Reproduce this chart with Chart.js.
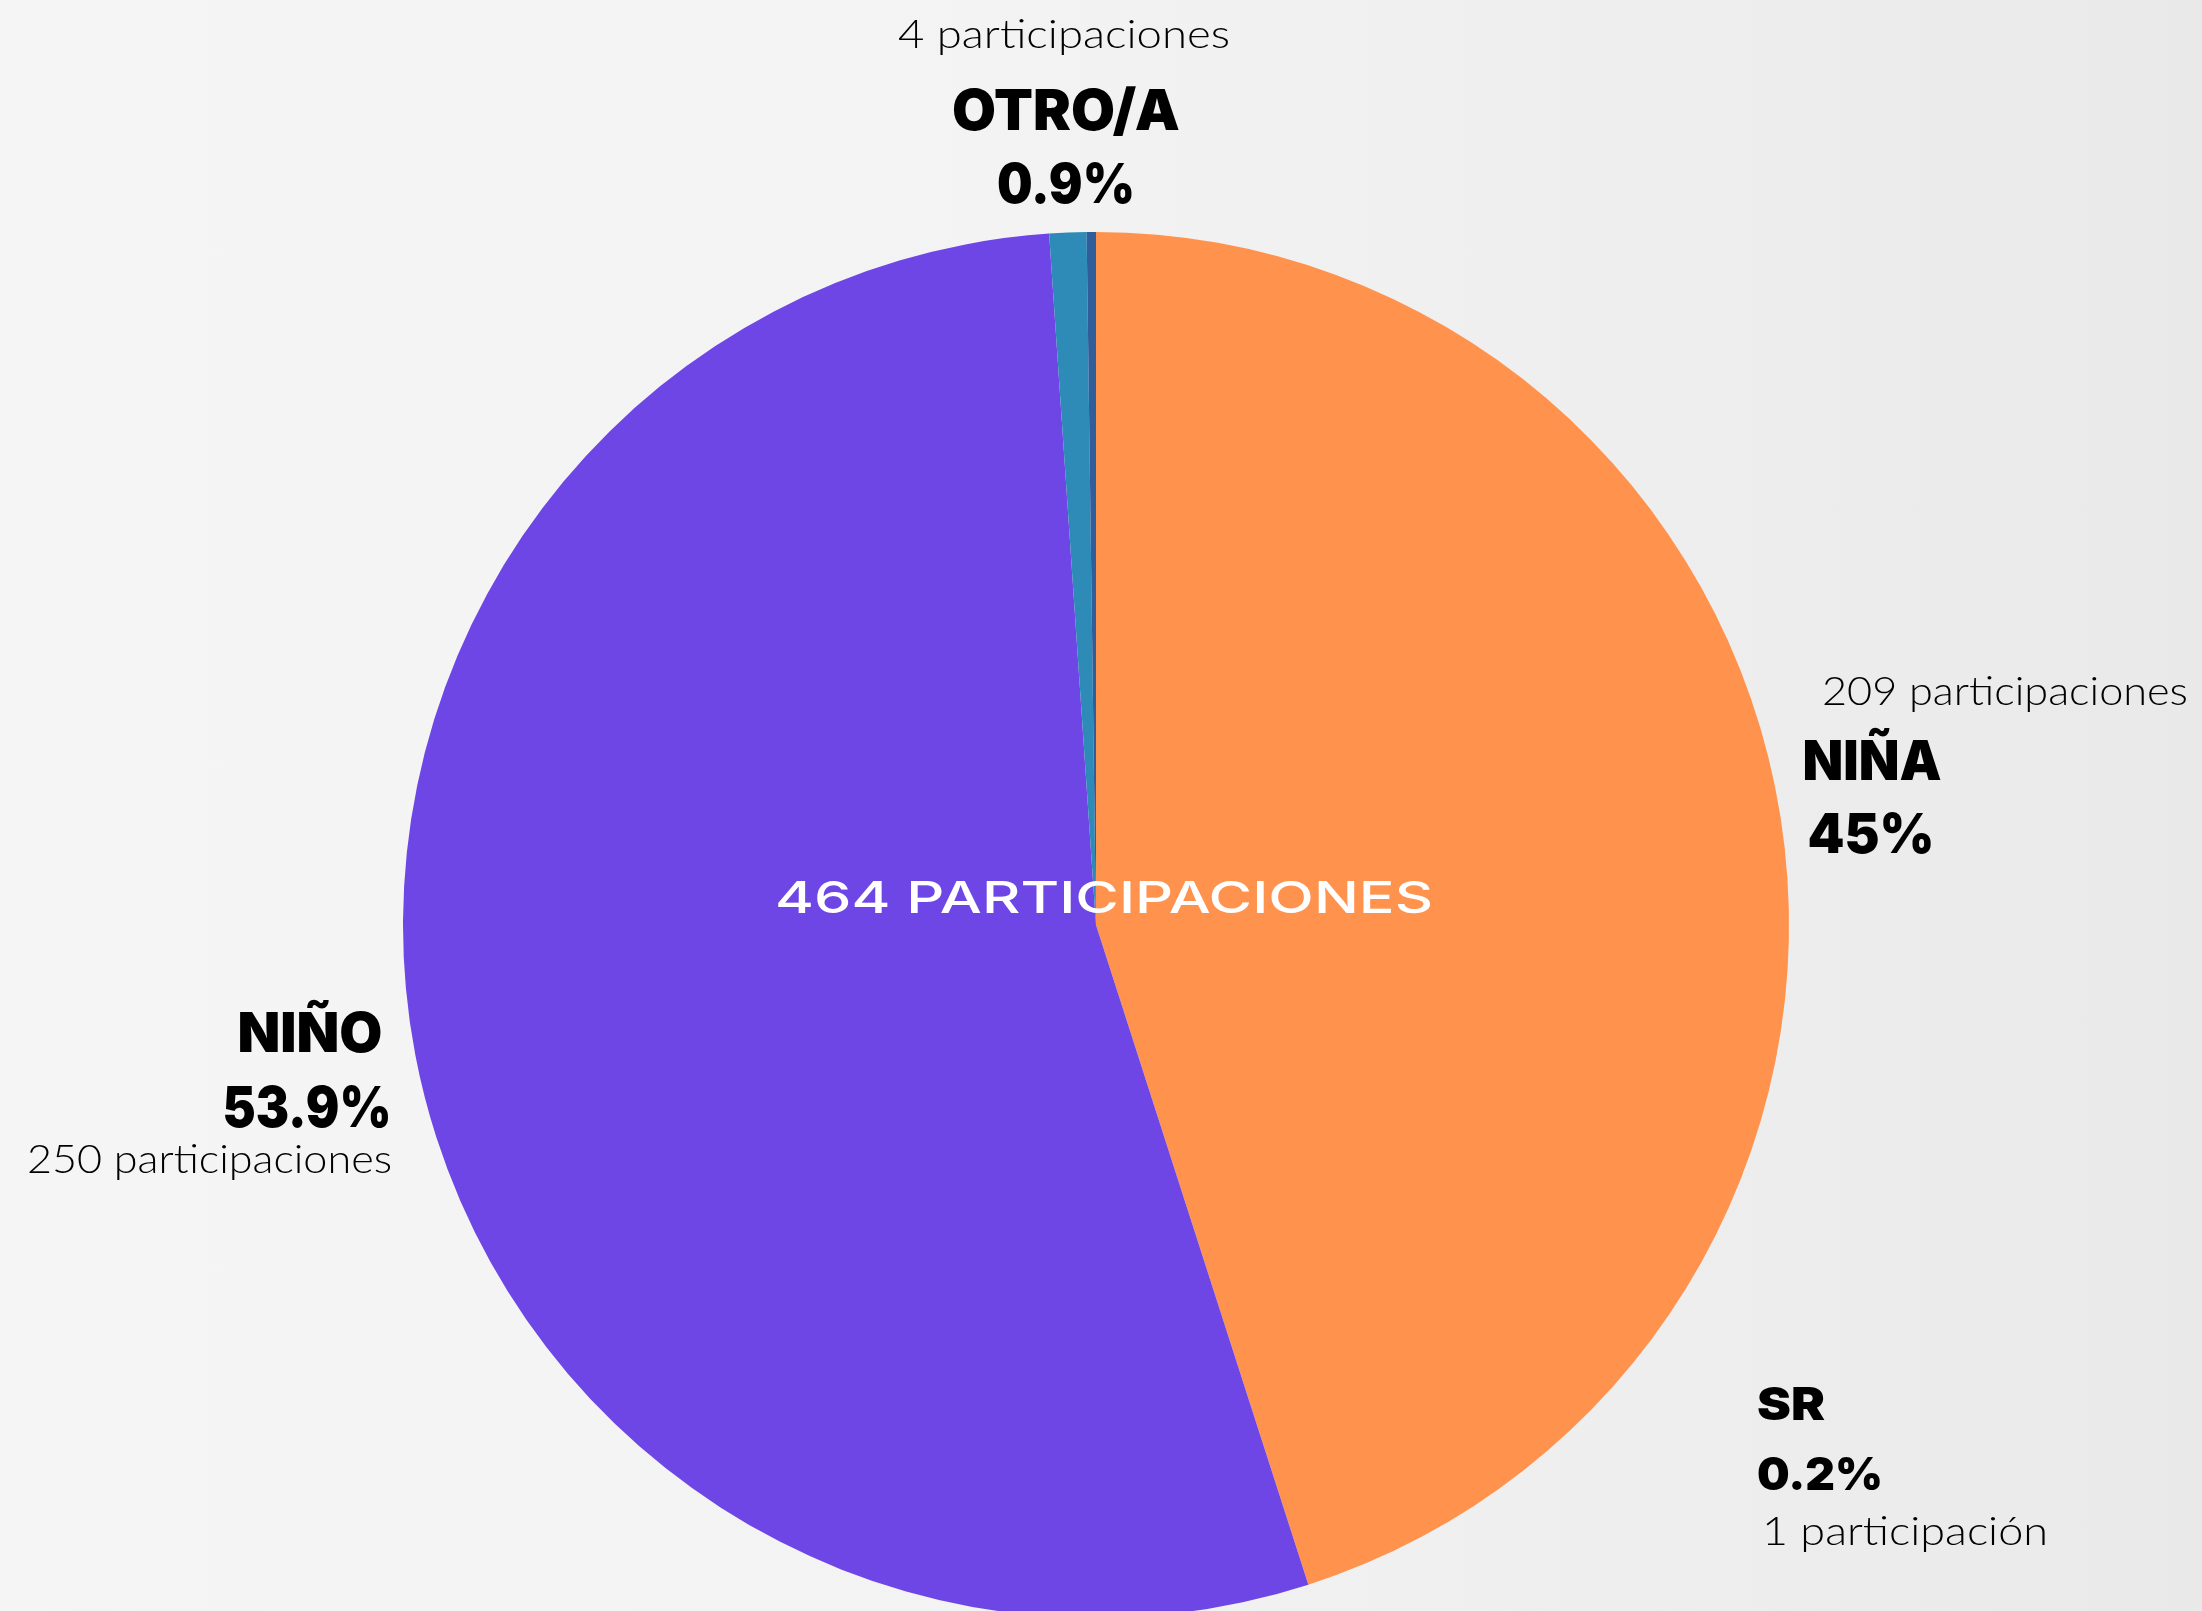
<!DOCTYPE html>
<html>
<head>
<meta charset="utf-8">
<script src="https://cdn.jsdelivr.net/npm/chart.js@4.4.1/dist/chart.umd.min.js"></script>
<style>
  html, body { margin: 0; padding: 0; width: 2202px; height: 1611px; overflow: hidden;
    background: linear-gradient(90deg, #f5f5f5 0%, #f3f3f3 45%, #ededed 80%, #e9e9e9 100%); }
  canvas { display: block; }
</style>
</head>
<body>
<canvas id="c" width="2202" height="1650"></canvas>
<script>
// ---- data ----
const categories = ['NIÑA', 'NIÑO', 'OTRO/A', 'SR'];
const counts = [209, 250, 4, 1];
const percentLabels = ['45%', '53.9%', '0.9%', '0.2%'];
const countLabels = ['209 participaciones', '250 participaciones', '4 participaciones', '1 participación'];
const totalLabel = '464 PARTICIPACIONES';
const colors = ['#FF924D', '#6F46E6', '#2E8BB8', '#2F5E9A'];

const BOLD = '"Inter", "Lato", sans-serif';
const LIGHT = '"Lato", "Open Sans", sans-serif';

function fitText(ctx, txt, x, y, font, width, align) {
  ctx.save();
  ctx.font = font;
  const w = ctx.measureText(txt).width;
  const s = width / w;
  let left;
  if (align === 'center') left = x - width / 2;
  else if (align === 'right') left = x - width;
  else left = x;
  ctx.translate(left, y);
  ctx.scale(s, 1);
  ctx.textAlign = 'left';
  ctx.textBaseline = 'alphabetic';
  ctx.fillText(txt, 0, 0);
  ctx.restore();
}

// label layout (annotation text placement)
const labelLayout = [
  // NIÑA
  { items: [
    { t: () => countLabels[0], x: 1822, y: 705, f: '300 39px ' + LIGHT, w: 366, a: 'left' },
    { t: () => categories[0], x: 1872, y: 780, f: '900 55px ' + BOLD, w: 139, a: 'center' },
    { t: () => percentLabels[0], x: 1871, y: 853, f: '900 55px ' + BOLD, w: 127, a: 'center' } ] },
  // NIÑO
  { items: [
    { t: () => categories[1], x: 310, y: 1052, f: '900 55px ' + BOLD, w: 145, a: 'center' },
    { t: () => percentLabels[1], x: 307, y: 1127, f: '900 57px ' + BOLD, w: 169, a: 'center' },
    { t: () => countLabels[1], x: 392, y: 1173, f: '300 39px ' + LIGHT, w: 365, a: 'right' } ] },
  // OTRO/A
  { items: [
    { t: () => countLabels[2], x: 1064, y: 48, f: '300 39px ' + LIGHT, w: 332, a: 'center' },
    { t: () => categories[2], x: 1066, y: 130, f: '900 57px ' + BOLD, w: 228, a: 'center' },
    { t: () => percentLabels[2], x: 1066, y: 203, f: '900 55px ' + BOLD, w: 138, a: 'center' } ] },
  // SR
  { items: [
    { t: () => categories[3], x: 1757, y: 1420, f: '900 45px ' + BOLD, w: 68, a: 'left' },
    { t: () => percentLabels[3], x: 1757, y: 1490, f: '900 45px ' + BOLD, w: 126, a: 'left' },
    { t: () => countLabels[3], x: 1762, y: 1545, f: '300 39px ' + LIGHT, w: 286, a: 'left' } ] }
];

const labelPlugin = {
  id: 'labels',
  afterDraw(chart) {
    const ctx = chart.ctx;
    ctx.save();
    ctx.fillStyle = '#000000';
    labelLayout.forEach(g => g.items.forEach(it => fitText(ctx, it.t(), it.x, it.y, it.f, it.w, it.a)));
    const arc = chart.getDatasetMeta(0).data[0];
    ctx.fillStyle = '#ffffff';
    fitText(ctx, totalLabel, arc.x + 8, arc.y - 12, '500 44px "Inter", "Lato", sans-serif', 658, 'center');
    ctx.restore();
  }
};

new Chart(document.getElementById('c'), {
  type: 'pie',
  data: {
    labels: categories,
    datasets: [{
      data: counts,
      backgroundColor: colors,
      borderWidth: 0
    }]
  },
  options: {
    responsive: false,
    animation: false,
    layout: { padding: { left: 403, right: 413, top: 232, bottom: 32 } },
    plugins: { legend: { display: false }, tooltip: { enabled: false } }
  },
  plugins: [labelPlugin]
});
</script>
</body>
</html>
